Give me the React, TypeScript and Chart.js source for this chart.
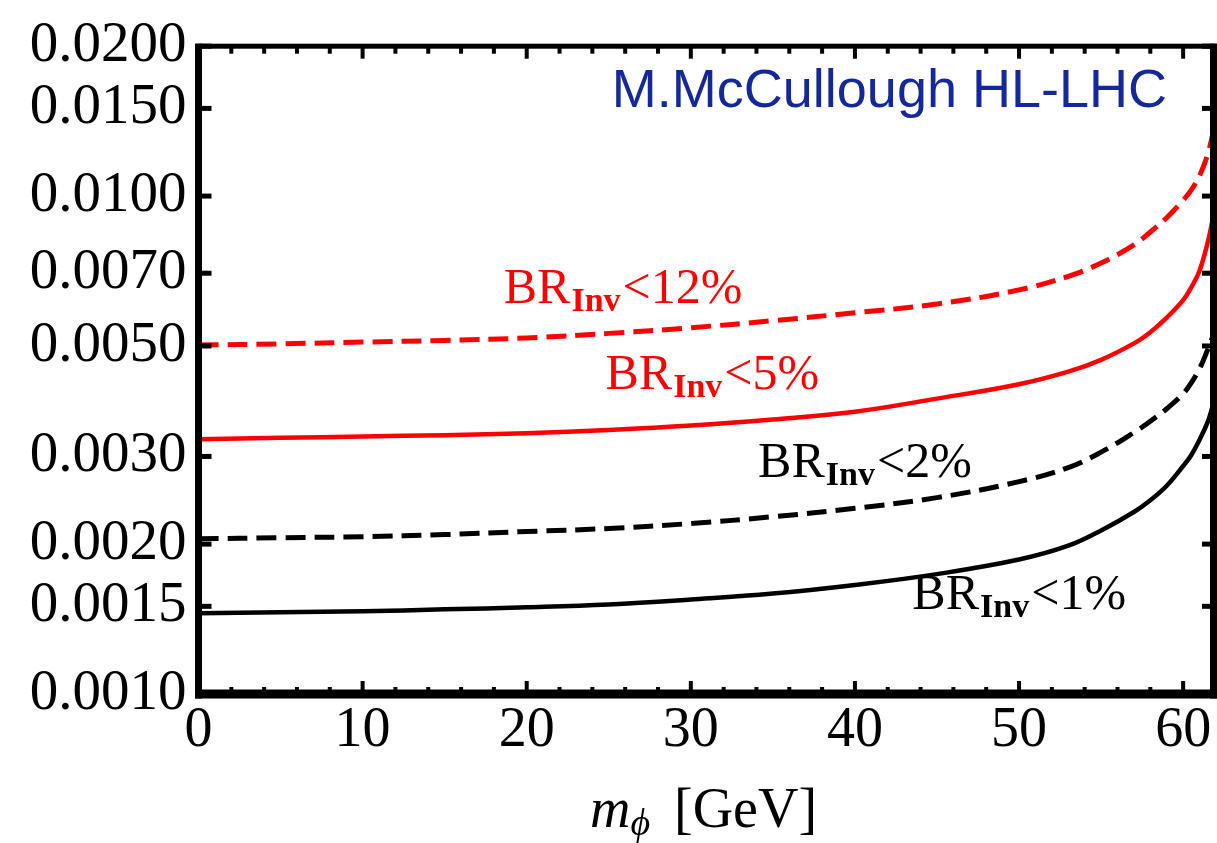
import React, { useEffect, useRef } from 'react';
import { Chart, registerables } from 'chart.js';

Chart.register(...registerables);

// m_phi [GeV]
const massGeV = [0, 5, 10, 15, 20, 25, 30, 35, 40, 45, 50, 53, 55, 57, 58, 59, 60, 60.5, 61, 61.5, 61.8];
// coupling limits for each BR_inv bound
const brInv12 = [0.00502, 0.00505, 0.00509, 0.00513, 0.00519, 0.0053, 0.00544, 0.00562, 0.00583, 0.00607, 0.00648, 0.0069, 0.00734, 0.00798, 0.00847, 0.00905, 0.00981, 0.01029, 0.01099, 0.01214, 0.01329];
const brInv5 = [0.00325, 0.00327, 0.00329, 0.00331, 0.00334, 0.00339, 0.00346, 0.00356, 0.00369, 0.00392, 0.00419, 0.00444, 0.00469, 0.00506, 0.00533, 0.0057, 0.00618, 0.00656, 0.00708, 0.00808, 0.00896];
const brInv2 = [0.00205, 0.00206, 0.00207, 0.00209, 0.00212, 0.00215, 0.0022, 0.00227, 0.00236, 0.00248, 0.00267, 0.00285, 0.00306, 0.00335, 0.00353, 0.00374, 0.00401, 0.00422, 0.0045, 0.00492, 0.00522];
const brInv1 = [0.001453, 0.001459, 0.001466, 0.001479, 0.001493, 0.001513, 0.001548, 0.001591, 0.001656, 0.001741, 0.001862, 0.001985, 0.00213, 0.00232, 0.00245, 0.00262, 0.00287, 0.00302, 0.00324, 0.00352, 0.00379];

const yTickValues = [0.001, 0.0015, 0.002, 0.003, 0.005, 0.007, 0.01, 0.015, 0.02];
const xMajorTicks = [0, 10, 20, 30, 40, 50, 60];
const xMinorTicks = [2, 4, 6, 8, 12, 14, 16, 18, 22, 24, 26, 28, 32, 34, 36, 38, 42, 44, 46, 48, 52, 54, 56, 58, 62];

const curveLabels = [
  { pct: '12%', color: '#ff0000', mass: 18.6, value: 0.0061 },
  { pct: '5%', color: '#ff0000', mass: 24.8, value: 0.0041 },
  { pct: '2%', color: '#000000', mass: 34.1, value: 0.00273 },
  { pct: '1%', color: '#000000', mass: 43.5, value: 0.00148 },
];

const SERIF = '"Liberation Serif", "Times New Roman", serif';

const overlayPlugin = {
  id: 'overlay',
  afterDraw(chart: any) {
    const { ctx, chartArea } = chart;
    const { left, right, top, bottom } = chartArea;
    const xs = chart.scales.x;
    const ys = chart.scales.y;
    ctx.save();
    ctx.fillStyle = '#000';
    // frame
    ctx.fillRect(left - 3.5, top - 2.5, right - left + 7, 5);
    ctx.fillRect(left - 3.5, bottom - 4.5, right - left + 7, 9);
    ctx.fillRect(left - 3.5, top - 2.5, 7, bottom - top + 7);
    ctx.fillRect(right - 3.5, top - 2.5, 7, bottom - top + 7);
    // x ticks
    xMajorTicks.forEach((v) => {
      const px = xs.getPixelForValue(v);
      ctx.fillRect(px - 2, bottom - 13, 4, 13);
      ctx.fillRect(px - 2, top, 4, 12.5);
    });
    xMinorTicks.forEach((v) => {
      if (v > xs.max) return;
      const px = xs.getPixelForValue(v);
      ctx.fillRect(px - 2, bottom - 7, 4, 7);
      ctx.fillRect(px - 2, top, 4, 7.5);
    });
    // y ticks
    yTickValues.forEach((v) => {
      const py = ys.getPixelForValue(v);
      ctx.fillRect(left, py - 2.5, 13, 5);
      ctx.fillRect(right - 11.5, py - 2.5, 11.5, 5);
    });

    // curve labels
    ctx.textBaseline = 'alphabetic';
    ctx.textAlign = 'left';
    curveLabels.forEach((l) => {
      let x = xs.getPixelForValue(l.mass);
      const y = ys.getPixelForValue(l.value);
      ctx.fillStyle = l.color;
      ctx.font = `50px ${SERIF}`;
      ctx.fillText('BR', x, y);
      x += ctx.measureText('BR').width + 1;
      ctx.font = `600 34px ${SERIF}`;
      ctx.fillText('Inv', x, y + 8);
      x += ctx.measureText('Inv').width + 2;
      ctx.font = `50px ${SERIF}`;
      ctx.fillText('<' + l.pct, x, y);
    });

    // annotation
    ctx.fillStyle = '#14289a';
    ctx.font = '54px "Liberation Sans", Arial, sans-serif';
    ctx.textAlign = 'right';
    ctx.fillText('M.McCullough HL-LHC', 1167, 107);

    // x axis title
    ctx.fillStyle = '#000';
    ctx.textAlign = 'left';
    let tx = 590;
    const ty = 827;
    ctx.font = `italic 56px ${SERIF}`;
    ctx.fillText('m', tx, ty);
    tx += ctx.measureText('m').width;
    ctx.font = `italic 38px ${SERIF}`;
    ctx.fillText('\u03d5', tx, ty + 8);
    ctx.font = `56px ${SERIF}`;
    ctx.fillText('[GeV]', 674, ty);
    ctx.restore();
  },
};

export default function App() {
  const canvasRef = useRef<HTMLCanvasElement | null>(null);

  useEffect(() => {
    const canvas = canvasRef.current;
    if (!canvas) return;
    const mk = (data: number[], color: string, dashed: boolean) => ({
      data: massGeV.map((m, i) => ({ x: m, y: data[i] })),
      borderColor: color,
      borderWidth: dashed ? 5 : 4.5,
      borderDash: dashed ? [20, 9] : [],
      pointRadius: 0,
      fill: false,
      tension: 0.4,
    });
    const chart = new Chart(canvas, {
      type: 'line',
      data: {
        datasets: [
          mk(brInv12, '#ff0000', true),
          mk(brInv5, '#ff0000', false),
          mk(brInv2, '#000000', true),
          mk(brInv1, '#000000', false),
        ],
      },
      options: {
        animation: false,
        responsive: false,
        devicePixelRatio: 1,
        layout: { padding: { top: 34.5, right: 3.5, left: 0, bottom: 0 } },
        plugins: { legend: { display: false }, tooltip: { enabled: false }, title: { display: false } },
        scales: {
          x: {
            type: 'linear',
            min: 0,
            max: 61.85,
            grid: { display: false, drawTicks: false },
            border: { display: false },
            afterBuildTicks: (scale: any) => {
              scale.ticks = xMajorTicks.map((v) => ({ value: v }));
            },
            afterFit: (scale: any) => {
              scale.height = 149;
            },
            ticks: {
              autoSkip: false,
              maxRotation: 0,
              padding: 4,
              color: '#000',
              font: { family: SERIF, size: 56 },
              callback: (v: any) => String(v),
            },
          },
          y: {
            type: 'logarithmic',
            min: 0.001,
            max: 0.02,
            grid: { display: false, drawTicks: false },
            border: { display: false },
            afterBuildTicks: (scale: any) => {
              scale.ticks = yTickValues.map((v) => ({ value: v }));
            },
            afterFit: (scale: any) => {
              scale.width = 198.5;
            },
            ticks: {
              autoSkip: false,
              padding: 12,
              color: '#000',
              font: { family: SERIF, size: 57 },
              callback: (v: any) => Number(v).toFixed(4),
            },
          },
        },
      },
      plugins: [overlayPlugin],
    });
    return () => chart.destroy();
  }, []);

  return (
    <div style={{ position: 'fixed', left: 0, top: 0, width: 1217, height: 843, background: '#fff' }}>
      <canvas ref={canvasRef} width={1217} height={843} style={{ display: 'block' }} />
    </div>
  );
}
